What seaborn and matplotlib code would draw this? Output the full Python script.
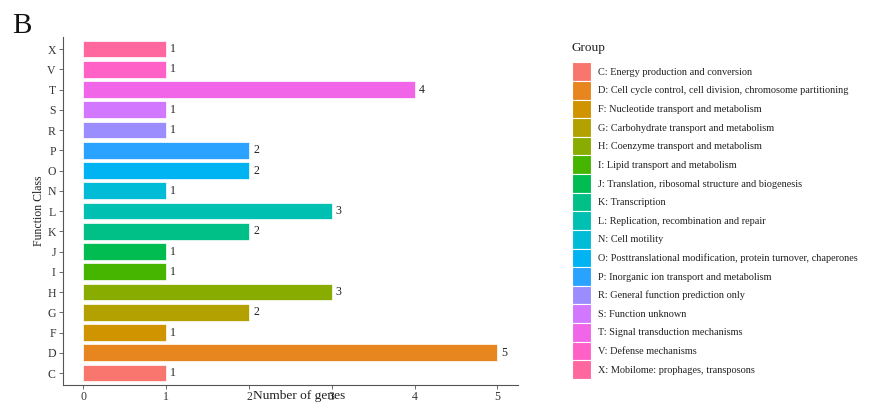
import numpy as np
import pandas as pd
import matplotlib
matplotlib.use("Agg")
import matplotlib.pyplot as plt
import seaborn as sns

# ---------------- data ----------------
classes = ["C", "D", "F", "G", "H", "I", "J", "K", "L", "N", "O", "P", "R", "S", "T", "V", "X"]
counts = [1, 5, 1, 2, 3, 1, 1, 2, 3, 1, 2, 2, 1, 1, 4, 1, 1]
descriptions = [
    "C: Energy production and conversion",
    "D: Cell cycle control, cell division, chromosome partitioning",
    "F: Nucleotide transport and metabolism",
    "G: Carbohydrate transport and metabolism",
    "H: Coenzyme transport and metabolism",
    "I: Lipid transport and metabolism",
    "J: Translation, ribosomal structure and biogenesis",
    "K: Transcription",
    "L: Replication, recombination and repair",
    "N: Cell motility",
    "O: Posttranslational modification, protein turnover, chaperones",
    "P: Inorganic ion transport and metabolism",
    "R: General function prediction only",
    "S: Function unknown",
    "T: Signal transduction mechanisms",
    "V: Defense mechanisms",
    "X: Mobilome: prophages, transposons",
]
x_ticks = [0, 1, 2, 3, 4, 5]


# ggplot2-like hue palette (HCL, l=65, c=100)
def hcl_to_hex(h, c=100.0, l=65.0):
    Xn, Yn, Zn = 95.047, 100.0, 108.883
    U = c * np.cos(np.radians(h))
    V = c * np.sin(np.radians(h))
    Y = Yn * ((l + 16) / 116) ** 3
    un = 4 * Xn / (Xn + 15 * Yn + 3 * Zn)
    vn = 9 * Yn / (Xn + 15 * Yn + 3 * Zn)
    u = U / (13 * l) + un
    v = V / (13 * l) + vn
    X = Y * 9 * u / (4 * v)
    Z = Y * (12 - 3 * u - 20 * v) / (4 * v)
    X, Y, Z = X / 100, Y / 100, Z / 100
    r = 3.2404542 * X - 1.5371385 * Y - 0.4985314 * Z
    g = -0.9692660 * X + 1.8760108 * Y + 0.0415560 * Z
    b = 0.0556434 * X - 0.2040259 * Y + 1.0572252 * Z

    def gam(t):
        t = min(max(t, 0.0), 1.0)
        return 12.92 * t if t <= 0.0031308 else 1.055 * t ** (1 / 2.4) - 0.055

    return "#%02x%02x%02x" % tuple(int(round(gam(t) * 255)) for t in (r, g, b))


n = len(classes)
palette = [hcl_to_hex(15 + 360 * i / n) for i in range(n)]

df = pd.DataFrame({"cls": classes, "count": counts, "Group": descriptions})

# ---------------- figure ----------------
sns.set_theme(style="white")
plt.rcParams["font.family"] = ["Liberation Serif", "DejaVu Serif"]

W, H = 870, 416
fig = plt.figure(figsize=(W / 100, H / 100), dpi=100)
left_px, right_px, top_px, bot_px = 62.7, 518.0, 36.9, 385.2
ax = fig.add_axes([left_px / W, 1 - bot_px / H, (right_px - left_px) / W, (bot_px - top_px) / H])

sns.barplot(
    data=df, y="cls", x="count", hue="Group",
    order=classes[::-1], hue_order=descriptions,
    palette=palette, dodge=False, width=0.82, ax=ax,
    edgecolor="white", linewidth=0.5, saturation=1,
)

for cont in ax.containers:
    ax.bar_label(cont, padding=3, fontsize=8.5, color="#222222")

ax.set_xlim(-0.25, 5.25)
ax.set_ylim(16.6, -0.6)
ax.set_xticks(x_ticks)
ax.set_xticklabels([str(t) for t in x_ticks])

for side in ["top", "right"]:
    ax.spines[side].set_visible(False)
for side in ["left", "bottom"]:
    ax.spines[side].set_color("#555555")
    ax.spines[side].set_linewidth(0.8)

ax.tick_params(axis="both", length=3, width=0.6, color="#555555", labelsize=8.5,
               labelcolor="#333333", pad=2, left=True, bottom=True)
ax.tick_params(axis="x", pad=1.5)

ax.set_ylabel("Function Class", fontsize=8.5, color="#222222")
ax.yaxis.set_label_coords(-0.038, 0.5)
ax.set_xlabel("Number of genes", fontsize=9.6, color="#222222")
ax.xaxis.set_label_coords((299 - left_px) / (right_px - left_px), -0.014)
ax.xaxis.label.set_va("top")

fs = 7.4
sns.move_legend(
    ax, "upper left",
    bbox_to_anchor=(572 / W, 1 - 42 / H), bbox_transform=fig.transFigure,
    title="Group", frameon=False, fontsize=fs, title_fontsize=9.5,
    handlelength=1.85, handleheight=2.41, labelspacing=0.0,
    handletextpad=0.68, borderaxespad=0, borderpad=0, alignment="left",
)
leg = ax.get_legend()
leg._legend_box.sep = 6
for h in leg.legend_handles:
    h.set_edgecolor("white")
    h.set_linewidth(0.8)
for t in leg.get_texts():
    t.set_color("#222222")
leg.get_title().set_color("#222222")

fig.text(12 / W, 1 - 33 / H, "B", fontsize=21, color="#111111", va="baseline", ha="left")

fig.savefig("out.png", dpi=100, facecolor="white")
